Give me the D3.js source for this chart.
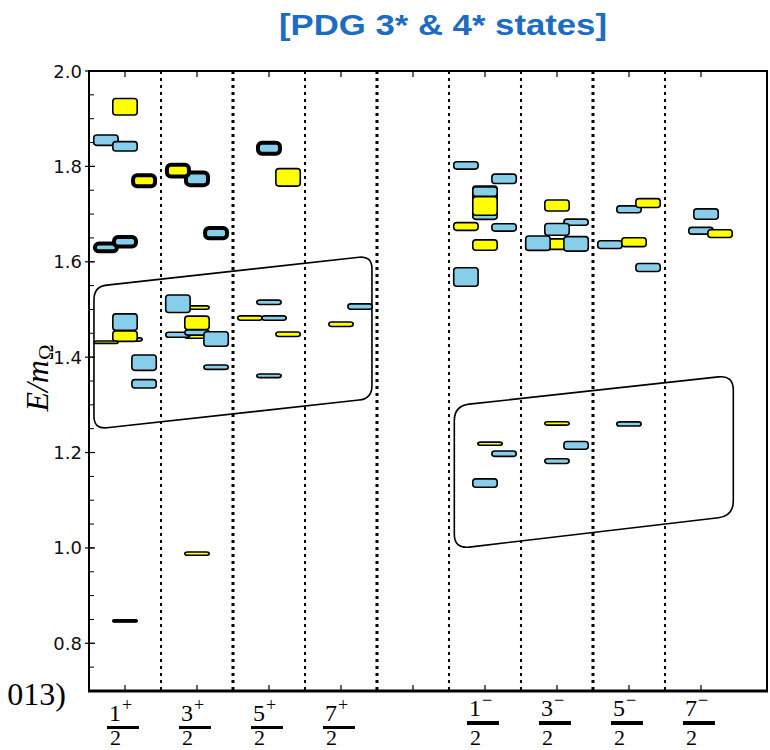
<!DOCTYPE html>
<html>
<head>
<meta charset="utf-8">
<script src="https://cdn.jsdelivr.net/npm/d3@7"></script>
<style>
  html, body { margin: 0; padding: 0; background: #fff; }
  svg { display: block; }
</style>
</head>
<body>
<svg id="chart" width="770" height="750"></svg>
<script>
// ---- channel labels (J^P) ----
const spinNumerators = ["1", "3", "5", "7", "1", "3", "5", "7"];
const parities = ["+", "+", "+", "+", "\u2212", "\u2212", "\u2212", "\u2212"];
const channelColumns = [0, 1, 2, 3, 5, 6, 7, 8];
const yTickValues = [0.8, 1.0, 1.2, 1.4, 1.6, 1.8, 2.0];

// ---- energy levels per channel: [slot, E/mΩ, half-height, kind] ----
// kind: b = lattice level, y = PDG state, B / Y = highlighted level, k = reference state
const levels1p = [
  [1, 1.925, 0.019, "y"],
  [0, 1.855, 0.0126, "b"],
  [1, 1.842, 0.0115, "b"],
  [3, 1.770, 0.0157, "Y"],
  [0, 1.630, 0.0123, "B"],
  [1, 1.642, 0.014, "B"],
  [2, 1.437, 0.0052, "b"],
  [1, 1.4735, 0.0189, "b"],
  [1, 1.444, 0.0126, "y"],
  [0, 1.4315, 0.0042, "y"],
  [3, 1.3885, 0.0178, "b"],
  [3, 1.344, 0.0105, "b"],
  [1, 0.847, 0.004, "k"]
];
const levels3p = [
  [1, 1.774, 0.0175, "B"],
  [0, 1.791, 0.0165, "Y"],
  [3, 1.660, 0.015, "B"],
  [1, 1.504, 0.0053, "y"],
  [1, 1.443, 0.005, "y"],
  [0, 1.512, 0.020, "b"],
  [1, 1.472, 0.0157, "y"],
  [0, 1.447, 0.007, "b"],
  [1, 1.4515, 0.007, "b"],
  [3, 1.438, 0.0168, "b"],
  [3, 1.379, 0.0063, "b"],
  [1, 0.988, 0.005, "y"]
];
const levels5p = [
  [1, 1.838, 0.0157, "B"],
  [3, 1.777, 0.020, "y"],
  [1, 1.515, 0.0063, "b"],
  [2, 1.482, 0.0063, "b"],
  [0, 1.482, 0.0063, "y"],
  [3, 1.448, 0.0063, "y"],
  [1, 1.361, 0.0055, "b"]
];
const levels7p = [
  [1, 1.469, 0.0063, "y"],
  [3, 1.506, 0.0073, "b"]
];
const levels1m = [
  [0, 1.802, 0.0094, "b"],
  [3, 1.774, 0.0115, "b"],
  [1, 1.724, 0.0367, "b"],
  [1, 1.747, 0.0115, "b"],
  [1, 1.717, 0.021, "y"],
  [0, 1.674, 0.0098, "y"],
  [3, 1.672, 0.0094, "b"],
  [1, 1.635, 0.0126, "y"],
  [0, 1.568, 0.021, "b"],
  [2, 1.2186, 0.005, "y"],
  [3, 1.1976, 0.0073, "b"],
  [1, 1.136, 0.0105, "b"]
];
const levels3m = [
  [1, 1.718, 0.0133, "y"],
  [3, 1.683, 0.008, "b"],
  [1, 1.637, 0.0126, "y"],
  [0, 1.629, 0.005, "b"],
  [0, 1.639, 0.0168, "b"],
  [1, 1.668, 0.014, "b"],
  [3, 1.6375, 0.0168, "b"],
  [1, 1.261, 0.0052, "y"],
  [3, 1.215, 0.0098, "b"],
  [1, 1.182, 0.0066, "b"]
];
const levels5m = [
  [1, 1.710, 0.0088, "b"],
  [3, 1.723, 0.011, "y"],
  [0, 1.636, 0.0098, "b"],
  [2, 1.641, 0.011, "y"],
  [3, 1.588, 0.010, "b"],
  [1, 1.260, 0.006, "b"]
];
const levels7m = [
  [2, 1.700, 0.0126, "b"],
  [1, 1.665, 0.0088, "b"],
  [3, 1.659, 0.0098, "y"]
];
const channelLevels = [levels1p, levels3p, levels5p, levels7p, levels1m, levels3m, levels5m, levels7m];

// ---- outlined regions: corners [column units, E/mΩ] TL, TR, BR, BL ----
const regionPositive = [[0.069, 1.548], [3.93, 1.6125], [3.93, 1.313], [0.069, 1.249]];
const regionNegative = [[5.074, 1.298], [8.949, 1.362], [8.949, 1.067], [5.074, 0.998]];

// ---- layout ----
const plotLeft = 89, plotRight = 767, plotTop = 71, plotBottom = 691;
const slotShift = [-0.265, 0, 0.07, 0.265];
const boxWidth = 0.361;
const heavyDividers = [2, 4, 7];

const svg = d3.select("#chart");
const x = d3.scaleLinear().domain([0, 9.417]).range([plotLeft, plotRight]);
const y = d3.scaleLinear().domain([0.7, 2.0]).range([plotBottom, plotTop]);

// title
svg.append("text")
  .attr("x", 279).attr("y", 35)
  .attr("font-family", "'Liberation Sans', Arial, sans-serif")
  .attr("font-weight", "bold")
  .attr("font-size", 29)
  .attr("textLength", 328)
  .attr("lengthAdjust", "spacingAndGlyphs")
  .attr("fill", "#1d6cc4")
  .text("[PDG 3* & 4* states]");

// plot background
svg.append("rect")
  .attr("x", plotLeft).attr("y", plotTop)
  .attr("width", plotRight - plotLeft).attr("height", plotBottom - plotTop)
  .attr("fill", "#fff");

// dotted column dividers
const dividers = d3.range(1, 9);
svg.append("g").selectAll("line").data(dividers).join("line")
  .attr("x1", d => x(d)).attr("x2", d => x(d))
  .attr("y1", plotTop).attr("y2", plotBottom)
  .attr("stroke", "#000")
  .attr("stroke-width", d => heavyDividers.includes(d) ? 3 : 2)
  .attr("stroke-dasharray", "3,4");

// rounded outline paths
function roundedPolygon(points, r) {
  const n = points.length;
  let path = "";
  for (let i = 0; i < n; i++) {
    const p0 = points[(i - 1 + n) % n], p1 = points[i], p2 = points[(i + 1) % n];
    const d1 = Math.hypot(p1[0] - p0[0], p1[1] - p0[1]);
    const d2 = Math.hypot(p2[0] - p1[0], p2[1] - p1[1]);
    const a = [p1[0] + (p0[0] - p1[0]) * r / d1, p1[1] + (p0[1] - p1[1]) * r / d1];
    const b = [p1[0] + (p2[0] - p1[0]) * r / d2, p1[1] + (p2[1] - p1[1]) * r / d2];
    path += (i === 0 ? "M" : "L") + a[0] + "," + a[1] + "Q" + p1[0] + "," + p1[1] + " " + b[0] + "," + b[1];
  }
  return path + "Z";
}
[[regionPositive, 13], [regionNegative, 15]].forEach(([corners, r]) => {
  svg.append("path")
    .attr("d", roundedPolygon(corners.map(c => [x(c[0]), y(c[1])]), r))
    .attr("fill", "none")
    .attr("stroke", "#000")
    .attr("stroke-width", 1.6);
});

// energy level boxes
const kindStyle = {
  b: { fill: "#87ceeb", sw: 1.6, rx: 3 },
  y: { fill: "#ffff00", sw: 1.6, rx: 3 },
  B: { fill: "#87ceeb", sw: 4, rx: 4 },
  Y: { fill: "#ffff00", sw: 4, rx: 4 },
  k: { fill: "#000000", sw: 1, rx: 1 }
};
const levelGroup = svg.append("g");
channelLevels.forEach((levels, ci) => {
  const col = channelColumns[ci];
  levelGroup.append("g").selectAll("rect").data(levels).join("rect")
    .each(function (d) {
      const st = kindStyle[d[3]];
      const cx = col + 0.5 + slotShift[d[0]];
      const x0 = x(cx - boxWidth / 2), x1 = x(cx + boxWidth / 2);
      const y0 = y(d[1] + d[2]), y1 = y(d[1] - d[2]);
      d3.select(this)
        .attr("x", x0 + st.sw / 2)
        .attr("y", y0 + st.sw / 2)
        .attr("width", Math.max(0.5, x1 - x0 - st.sw))
        .attr("height", Math.max(0.5, y1 - y0 - st.sw))
        .attr("rx", st.rx).attr("ry", st.rx)
        .attr("fill", st.fill)
        .attr("stroke", "#000")
        .attr("stroke-width", st.sw);
    });
});

// y axis ticks (every 0.05, labelled every 0.2)
const minorTicks = d3.range(0.75, 2.0001, 0.05).map(v => +v.toFixed(2));
svg.append("g").selectAll("line").data(minorTicks).join("line")
  .attr("x1", plotLeft).attr("x2", plotLeft + 5)
  .attr("y1", d => y(d)).attr("y2", d => y(d))
  .attr("stroke", "#000").attr("stroke-width", 1);
svg.append("g").selectAll("line").data(yTickValues).join("line")
  .attr("x1", plotLeft - 4).attr("x2", plotLeft + 6)
  .attr("y1", d => y(d)).attr("y2", d => y(d))
  .attr("stroke", "#000").attr("stroke-width", 1.2);
svg.append("g").selectAll("text").data(yTickValues).join("text")
  .attr("x", plotLeft - 7).attr("y", d => y(d) + 6.5)
  .attr("text-anchor", "end")
  .attr("font-family", "'DejaVu Sans', sans-serif")
  .attr("font-size", 18)
  .attr("fill", "#111")
  .text(d => d.toFixed(1));

// column ticks on top and bottom frame
const colCenters = d3.range(0, 9).map(k => k + 0.5);
svg.append("g").selectAll("line").data(colCenters).join("line")
  .attr("x1", d => x(d)).attr("x2", d => x(d))
  .attr("y1", plotTop).attr("y2", plotTop + 6)
  .attr("stroke", "#000").attr("stroke-width", 1.2);
svg.append("g").selectAll("line").data(colCenters).join("line")
  .attr("x1", d => x(d)).attr("x2", d => x(d))
  .attr("y1", plotBottom - 6).attr("y2", plotBottom)
  .attr("stroke", "#000").attr("stroke-width", 1.2);

// frame
svg.append("rect")
  .attr("x", plotLeft).attr("y", plotTop)
  .attr("width", plotRight - plotLeft).attr("height", plotBottom - plotTop)
  .attr("fill", "none").attr("stroke", "#000").attr("stroke-width", 2);
svg.append("line")
  .attr("x1", plotLeft - 1).attr("x2", plotRight + 1)
  .attr("y1", plotBottom).attr("y2", plotBottom)
  .attr("stroke", "#000").attr("stroke-width", 3);

// J^P fraction labels
const serif = "'Liberation Serif', 'DejaVu Serif', serif";
spinNumerators.forEach((num, i) => {
  const cx = x(channelColumns[i] + 0.5);
  const neg = parities[i] !== "+";
  const numBase = neg ? 716 : 721;
  const g = svg.append("g");
  const t = g.append("text")
    .attr("x", cx - 16).attr("y", numBase)
    .attr("font-family", serif).attr("font-size", 24).attr("fill", "#000");
  t.append("tspan").text(num);
  t.append("tspan")
    .attr("dx", 1).attr("dy", -10)
    .attr("font-size", 18)
    .text(parities[i]);
  g.append("rect")
    .attr("x", cx - 18).attr("y", neg ? 721 : 726)
    .attr("width", 32).attr("height", neg ? 4 : 3)
    .attr("fill", "#000");
  g.append("text")
    .attr("x", cx - 15).attr("y", 745)
    .attr("font-family", serif).attr("font-size", 22).attr("fill", "#000")
    .text("2");
});

// y axis title E/mΩ
const yTitle = svg.append("text")
  .attr("transform", "translate(48,378) rotate(-90)")
  .attr("text-anchor", "middle")
  .attr("font-family", serif)
  .attr("font-size", 32)
  .attr("fill", "#000");
yTitle.append("tspan").attr("font-style", "italic").text("E/m");
yTitle.append("tspan").attr("font-size", 21).attr("dy", 5).text("\u03A9");

// trailing citation fragment at the left edge
svg.append("text")
  .attr("x", 66).attr("y", 705)
  .attr("text-anchor", "end")
  .attr("font-family", serif)
  .attr("font-size", 32)
  .attr("fill", "#000")
  .text("013)");
</script>
</body>
</html>
